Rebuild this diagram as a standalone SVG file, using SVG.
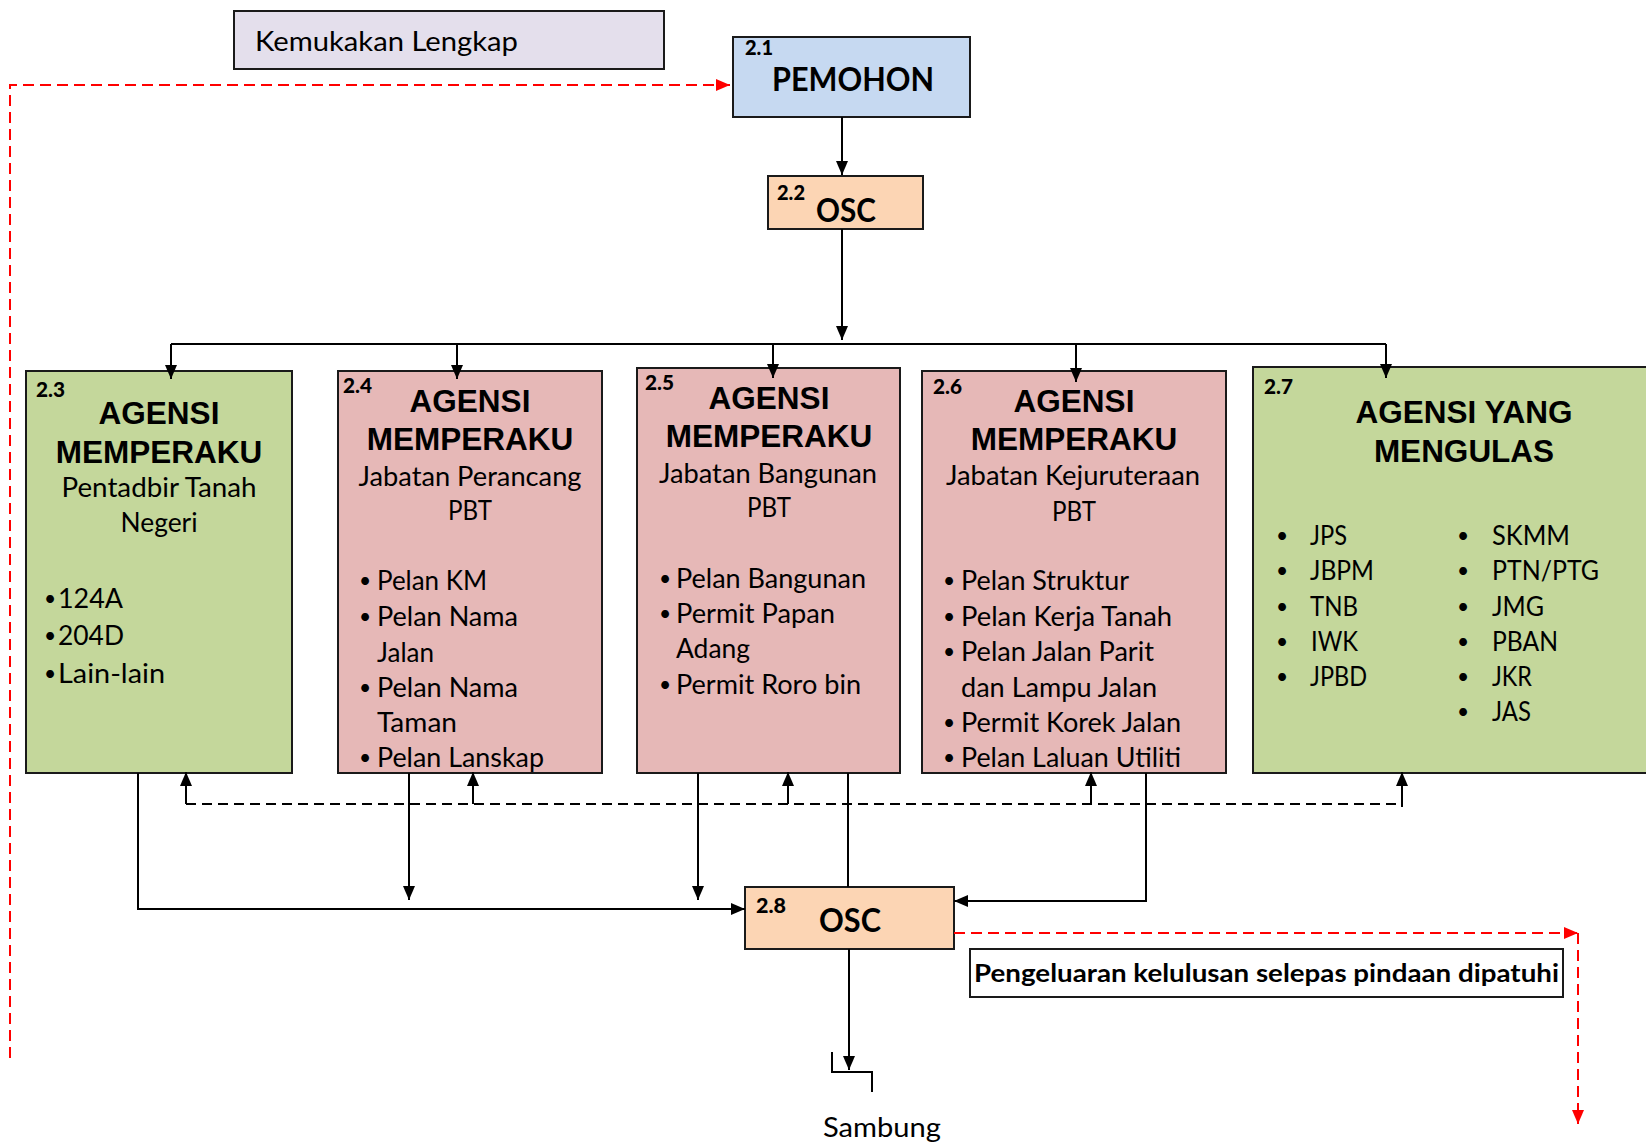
<svg xmlns="http://www.w3.org/2000/svg" width="1646" height="1145" viewBox="0 0 1646 1145">
<defs>
<marker id="ah" viewBox="0 0 14 12" refX="14" refY="6" markerWidth="14" markerHeight="12" markerUnits="userSpaceOnUse" orient="auto"><path d="M0,0 L14,6 L0,12 z" fill="#000"/></marker>
<marker id="ahr" viewBox="0 0 14 12" refX="14" refY="6" markerWidth="14" markerHeight="12" markerUnits="userSpaceOnUse" orient="auto"><path d="M0,0 L14,6 L0,12 z" fill="#FF0000"/></marker>
</defs>
<style>
.box{stroke:#1a1a1a;stroke-width:2}
.green{fill:#C4D79B}.pink{fill:#E6B8B7}.peach{fill:#FCD5B4}.blue{fill:#C6D9F1}.lav{fill:#E4DFEC}.white{fill:#fff}
text{fill:#000}
.num{font-family:Lato,'Open Sans',sans-serif;font-weight:900;font-size:20px}
.hd{font-family:'Liberation Sans',Arial,sans-serif;font-weight:bold;font-size:31.5px;text-anchor:middle}
.t{font-family:Lato,'Open Sans',sans-serif;font-size:26px}
.bu{font-family:Lato,'Open Sans',sans-serif;font-size:21px}
.b{font-weight:bold}
.c{text-anchor:middle}
.ln{fill:none;stroke:#000;stroke-width:2}
.dash{stroke-dasharray:10 6}
.red{fill:none;stroke:#FF0000;stroke-width:2;stroke-dasharray:11 6}
</style>
<rect width="1646" height="1145" fill="#fff"/>

<g id="label-kemukakan">
<rect class="box lav" x="234" y="11" width="430" height="58"/>
<text class="t" x="255" y="51" style="font-size:27px" textLength="263" lengthAdjust="spacingAndGlyphs">Kemukakan Lengkap</text>
</g>

<g id="node-2-1">
<rect class="box blue" x="733" y="37" width="237" height="80"/>
<text class="num" x="745" y="55" textLength="28" lengthAdjust="spacingAndGlyphs">2.1</text>
<text class="t b c" x="853" y="91" style="font-size:32px" textLength="162" lengthAdjust="spacingAndGlyphs">PEMOHON</text>
</g>

<g id="node-2-2">
<rect class="box peach" x="768" y="176" width="155" height="53"/>
<text class="num" x="777" y="200" textLength="28" lengthAdjust="spacingAndGlyphs">2.2</text>
<text class="t b c" x="846" y="222" style="font-size:33px" textLength="60" lengthAdjust="spacingAndGlyphs">OSC</text>
</g>

<g id="node-2-3">
<rect class="box green" x="26" y="371" width="266" height="402"/>
<text class="num" x="36" y="397" textLength="29" lengthAdjust="spacingAndGlyphs">2.3</text>
<text class="hd" x="159" y="424">AGENSI</text>
<text class="hd" x="159" y="463">MEMPERAKU</text>
<text class="t c" x="159" y="497" textLength="195" lengthAdjust="spacingAndGlyphs">Pentadbir Tanah</text>
<text class="t c" x="159" y="532" textLength="77" lengthAdjust="spacingAndGlyphs">Negeri</text>
<text class="bu" x="44" y="606">•</text><text class="t" x="58" y="608" style="font-size:27px" textLength="65" lengthAdjust="spacingAndGlyphs">124A</text>
<text class="bu" x="44" y="643">•</text><text class="t" x="58" y="645" style="font-size:27px" textLength="66" lengthAdjust="spacingAndGlyphs">204D</text>
<text class="bu" x="44" y="681">•</text><text class="t" x="58" y="683" style="font-size:27px" textLength="107" lengthAdjust="spacingAndGlyphs">Lain-lain</text>
</g>

<g id="node-2-4">
<rect class="box pink" x="338" y="371" width="264" height="402"/>
<text class="num" x="343" y="393" textLength="29" lengthAdjust="spacingAndGlyphs">2.4</text>
<text class="hd" x="470" y="412">AGENSI</text>
<text class="hd" x="470" y="450">MEMPERAKU</text>
<text class="t c" x="470" y="486" textLength="223" lengthAdjust="spacingAndGlyphs">Jabatan Perancang</text>
<text class="t c" x="470" y="520" textLength="44" lengthAdjust="spacingAndGlyphs">PBT</text>
<text class="bu" x="359" y="588">•</text><text class="t" x="377" y="590" textLength="110" lengthAdjust="spacingAndGlyphs">Pelan KM</text>
<text class="bu" x="359" y="624">•</text><text class="t" x="377" y="626" textLength="141" lengthAdjust="spacingAndGlyphs">Pelan Nama</text>
<text class="t" x="377" y="662" textLength="57" lengthAdjust="spacingAndGlyphs">Jalan</text>
<text class="bu" x="359" y="695">•</text><text class="t" x="377" y="697" textLength="141" lengthAdjust="spacingAndGlyphs">Pelan Nama</text>
<text class="t" x="377" y="732" textLength="80" lengthAdjust="spacingAndGlyphs">Taman</text>
<text class="bu" x="359" y="765">•</text><text class="t" x="377" y="767" textLength="167" lengthAdjust="spacingAndGlyphs">Pelan Lanskap</text>
</g>

<g id="node-2-5">
<rect class="box pink" x="637" y="368" width="263" height="405"/>
<text class="num" x="645" y="390" textLength="29" lengthAdjust="spacingAndGlyphs">2.5</text>
<text class="hd" x="769" y="409">AGENSI</text>
<text class="hd" x="769" y="447">MEMPERAKU</text>
<text class="t c" x="768" y="483" textLength="218" lengthAdjust="spacingAndGlyphs">Jabatan Bangunan</text>
<text class="t c" x="769" y="517" textLength="44" lengthAdjust="spacingAndGlyphs">PBT</text>
<text class="bu" x="659" y="586">•</text><text class="t" x="676" y="588" textLength="190" lengthAdjust="spacingAndGlyphs">Pelan Bangunan</text>
<text class="bu" x="659" y="621">•</text><text class="t" x="676" y="623" textLength="159" lengthAdjust="spacingAndGlyphs">Permit Papan</text>
<text class="t" x="676" y="658" textLength="74" lengthAdjust="spacingAndGlyphs">Adang</text>
<text class="bu" x="659" y="692">•</text><text class="t" x="676" y="694" textLength="185" lengthAdjust="spacingAndGlyphs">Permit Roro bin</text>
</g>

<g id="node-2-6">
<rect class="box pink" x="922" y="371" width="304" height="402"/>
<text class="num" x="933" y="394" textLength="29" lengthAdjust="spacingAndGlyphs">2.6</text>
<text class="hd" x="1074" y="412">AGENSI</text>
<text class="hd" x="1074" y="450">MEMPERAKU</text>
<text class="t c" x="1073" y="485" textLength="254" lengthAdjust="spacingAndGlyphs">Jabatan Kejuruteraan</text>
<text class="t c" x="1074" y="521" textLength="44" lengthAdjust="spacingAndGlyphs">PBT</text>
<text class="bu" x="943" y="588">•</text><text class="t" x="961" y="590" textLength="168" lengthAdjust="spacingAndGlyphs">Pelan Struktur</text>
<text class="bu" x="943" y="624">•</text><text class="t" x="961" y="626" textLength="211" lengthAdjust="spacingAndGlyphs">Pelan Kerja Tanah</text>
<text class="bu" x="943" y="659">•</text><text class="t" x="961" y="661" textLength="193" lengthAdjust="spacingAndGlyphs">Pelan Jalan Parit</text>
<text class="t" x="961" y="697" textLength="196" lengthAdjust="spacingAndGlyphs">dan Lampu Jalan</text>
<text class="bu" x="943" y="730">•</text><text class="t" x="961" y="732" textLength="220" lengthAdjust="spacingAndGlyphs">Permit Korek Jalan</text>
<text class="bu" x="943" y="765">•</text><text class="t" x="961" y="767" textLength="220" lengthAdjust="spacingAndGlyphs">Pelan Laluan Utiliti</text>
</g>

<g id="node-2-7">
<rect class="box green" x="1253" y="367" width="410" height="406"/>
<text class="num" x="1264" y="394" textLength="29" lengthAdjust="spacingAndGlyphs">2.7</text>
<text class="hd" x="1464" y="423">AGENSI YANG</text>
<text class="hd" x="1464" y="462">MENGULAS</text>
<text class="bu" x="1276" y="543">•</text><text class="t" x="1310" y="545" textLength="37" lengthAdjust="spacingAndGlyphs">JPS</text>
<text class="bu" x="1276" y="578">•</text><text class="t" x="1310" y="580" textLength="64" lengthAdjust="spacingAndGlyphs">JBPM</text>
<text class="bu" x="1276" y="614">•</text><text class="t" x="1310" y="616" textLength="48" lengthAdjust="spacingAndGlyphs">TNB</text>
<text class="bu" x="1276" y="649">•</text><text class="t" x="1311" y="651" textLength="47" lengthAdjust="spacingAndGlyphs">IWK</text>
<text class="bu" x="1276" y="684">•</text><text class="t" x="1310" y="686" textLength="57" lengthAdjust="spacingAndGlyphs">JPBD</text>
<text class="bu" x="1457" y="543">•</text><text class="t" x="1492" y="545" textLength="78" lengthAdjust="spacingAndGlyphs">SKMM</text>
<text class="bu" x="1457" y="578">•</text><text class="t" x="1492" y="580" textLength="107" lengthAdjust="spacingAndGlyphs">PTN/PTG</text>
<text class="bu" x="1457" y="614">•</text><text class="t" x="1492" y="616" textLength="52" lengthAdjust="spacingAndGlyphs">JMG</text>
<text class="bu" x="1457" y="649">•</text><text class="t" x="1492" y="651" textLength="66" lengthAdjust="spacingAndGlyphs">PBAN</text>
<text class="bu" x="1457" y="684">•</text><text class="t" x="1492" y="686" textLength="40" lengthAdjust="spacingAndGlyphs">JKR</text>
<text class="bu" x="1457" y="719">•</text><text class="t" x="1492" y="721" textLength="39" lengthAdjust="spacingAndGlyphs">JAS</text>
</g>

<g id="node-2-8">
<rect class="box peach" x="745" y="887" width="209" height="62"/>
<text class="num" x="756" y="913" textLength="30" lengthAdjust="spacingAndGlyphs">2.8</text>
<text class="t b c" x="850" y="932" style="font-size:33px" textLength="62" lengthAdjust="spacingAndGlyphs">OSC</text>
</g>

<g id="label-pengeluaran">
<rect class="box white" x="970" y="949" width="593" height="48"/>
<text class="t b" x="974" y="982" style="font-size:25px" textLength="585" lengthAdjust="spacingAndGlyphs">Pengeluaran kelulusan selepas pindaan dipatuhi</text>
</g>

<g id="label-sambung">
<text class="t c" x="882" y="1137" style="font-size:26px" textLength="118" lengthAdjust="spacingAndGlyphs">Sambung</text>
</g>

<g id="connectors">
<path class="ln" d="M842,117 L842,175" marker-end="url(#ah)"/>
<path class="ln" d="M842,229 L842,340" marker-end="url(#ah)"/>
<path class="ln" d="M171,344 L1386,344"/>
<path class="ln" d="M171,344 L171,379" marker-end="url(#ah)"/>
<path class="ln" d="M457,344 L457,379" marker-end="url(#ah)"/>
<path class="ln" d="M773,344 L773,378" marker-end="url(#ah)"/>
<path class="ln" d="M1076,344 L1076,382" marker-end="url(#ah)"/>
<path class="ln" d="M1386,344 L1386,378" marker-end="url(#ah)"/>
<path class="ln" d="M138,773 L138,909 L745,909" marker-end="url(#ah)"/>
<path class="ln" d="M409,773 L409,900" marker-end="url(#ah)"/>
<path class="ln" d="M698,773 L698,900" marker-end="url(#ah)"/>
<path class="ln" d="M848,773 L848,887"/>
<path class="ln" d="M1146,773 L1146,901 L954,901" marker-end="url(#ah)"/>
<path class="ln dash" d="M186,804 L1402,804"/>
<path class="ln" d="M186,804 L186,772" marker-end="url(#ah)"/>
<path class="ln" d="M473,804 L473,772" marker-end="url(#ah)"/>
<path class="ln" d="M788,804 L788,772" marker-end="url(#ah)"/>
<path class="ln" d="M1091,804 L1091,772" marker-end="url(#ah)"/>
<path class="ln" d="M1402,807 L1402,772" marker-end="url(#ah)"/>
<path class="ln" d="M849,949 L849,1070" marker-end="url(#ah)"/>
<path class="ln" d="M832,1052 L832,1072 L872,1072 L872,1092"/>
<path class="red" d="M10,1058 L10,85 L730,85" marker-end="url(#ahr)"/>
<path class="red" d="M954,933 L1578,933" marker-end="url(#ahr)"/>
<path class="red" d="M1578,933 L1578,1124" marker-end="url(#ahr)"/>
</g>
</svg>
